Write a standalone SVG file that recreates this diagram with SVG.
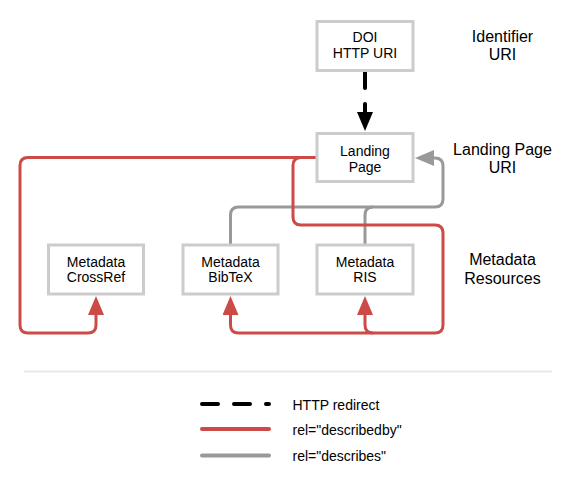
<svg xmlns="http://www.w3.org/2000/svg" width="571" height="483" viewBox="0 0 571 483">
<style>
text{font-family:"Liberation Sans",Arial,Helvetica,sans-serif;fill:#000}
.box{fill:#fff;stroke:#cccccc;stroke-width:3}
.bt{font-size:14px;text-anchor:middle}
.lab{font-size:16px;text-anchor:middle}
.leg{font-size:14px}
.red{fill:none;stroke:#cc4b46;stroke-width:3}
.gray{fill:none;stroke:#999999;stroke-width:3}
.blk{fill:none;stroke:#000;stroke-width:4;stroke-linecap:round;stroke-dasharray:16 16}
</style>
<defs>
<marker id="aRed" viewBox="0 -8 19 16" markerWidth="19" markerHeight="16" refX="0" refY="0" markerUnits="userSpaceOnUse" orient="auto"><path d="M0,-8 L19,0 L0,8 z" fill="#cc4b46"/></marker>
<marker id="aGray" viewBox="0 -8 19 16" markerWidth="19" markerHeight="16" refX="0" refY="0" markerUnits="userSpaceOnUse" orient="auto"><path d="M0,-8 L19,0 L0,8 z" fill="#999999"/></marker>
<marker id="aBlk" viewBox="0 -8 19 16" markerWidth="19" markerHeight="16" refX="0" refY="0" markerUnits="userSpaceOnUse" orient="auto"><path d="M0,-8 L19,0 L0,8 z" fill="#000"/></marker>
</defs>
<g id="connectors">
<path class="blk" d="M365,72 V112" marker-end="url(#aBlk)"/>
<path class="gray" d="M230.5,244 V215 Q230.5,207 238.5,207 H435 Q443,207 443,199 V166 Q443,158 435,158 L434,158" marker-end="url(#aGray)"/>
<path class="gray" d="M365,244 V215 Q365,207 373,207"/>
<path class="red" d="M316,157.5 H28 Q20,157.5 20,165.5 V325 Q20,333 28,333 H88 Q96,333 96,325 V315" marker-end="url(#aRed)"/>
<path class="red" d="M316,157.5 H301 Q293,157.5 293,165.5 V217 Q293,225 301,225 H435 Q443,225 443,233 V325 Q443,333 435,333 H238.5 Q230.5,333 230.5,325 V315" marker-end="url(#aRed)"/>
<path class="red" d="M373,333 Q365,333 365,325 V315" marker-end="url(#aRed)"/>
</g>
<g id="doi"><rect class="box" x="317" y="21.5" width="96" height="49"/><text class="bt" x="365" y="42">DOI</text><text class="bt" x="365" y="58">HTTP URI</text></g>
<g id="landing"><rect class="box" x="317" y="133.5" width="96" height="48"/><text class="bt" x="365" y="155.5">Landing</text><text class="bt" x="365" y="171.5">Page</text></g>
<g id="crossref"><rect class="box" x="48.5" y="245" width="95" height="49"/><text class="bt" x="96" y="266.5">Metadata</text><text class="bt" x="96" y="282">CrossRef</text></g>
<g id="bibtex"><rect class="box" x="183" y="245" width="95" height="49"/><text class="bt" x="230.5" y="266.5">Metadata</text><text class="bt" x="230.5" y="282">BibTeX</text></g>
<g id="ris"><rect class="box" x="317" y="245" width="96" height="49"/><text class="bt" x="365" y="266.5">Metadata</text><text class="bt" x="365" y="282">RIS</text></g>
<g id="labels">
<text class="lab" x="502.5" y="41.5">Identifier</text><text class="lab" x="502.5" y="60">URI</text>
<text class="lab" x="502.5" y="155">Landing Page</text><text class="lab" x="502.5" y="173">URI</text>
<text class="lab" x="502.5" y="265">Metadata</text><text class="lab" x="502.5" y="283.5">Resources</text>
</g>
<line x1="24" y1="371.5" x2="552" y2="371.5" stroke="#e8e8e8" stroke-width="2"/>
<g id="legend">
<line class="blk" x1="202" y1="404" x2="269" y2="404"/>
<line x1="202" y1="429" x2="269" y2="429" stroke="#cc4b46" stroke-width="4" stroke-linecap="round"/>
<line x1="202" y1="455.5" x2="269" y2="455.5" stroke="#999999" stroke-width="4" stroke-linecap="round"/>
<text class="leg" x="292.5" y="410">HTTP redirect</text>
<text class="leg" x="292.5" y="435">rel="describedby"</text>
<text class="leg" x="292.5" y="461">rel="describes"</text>
</g>
</svg>
